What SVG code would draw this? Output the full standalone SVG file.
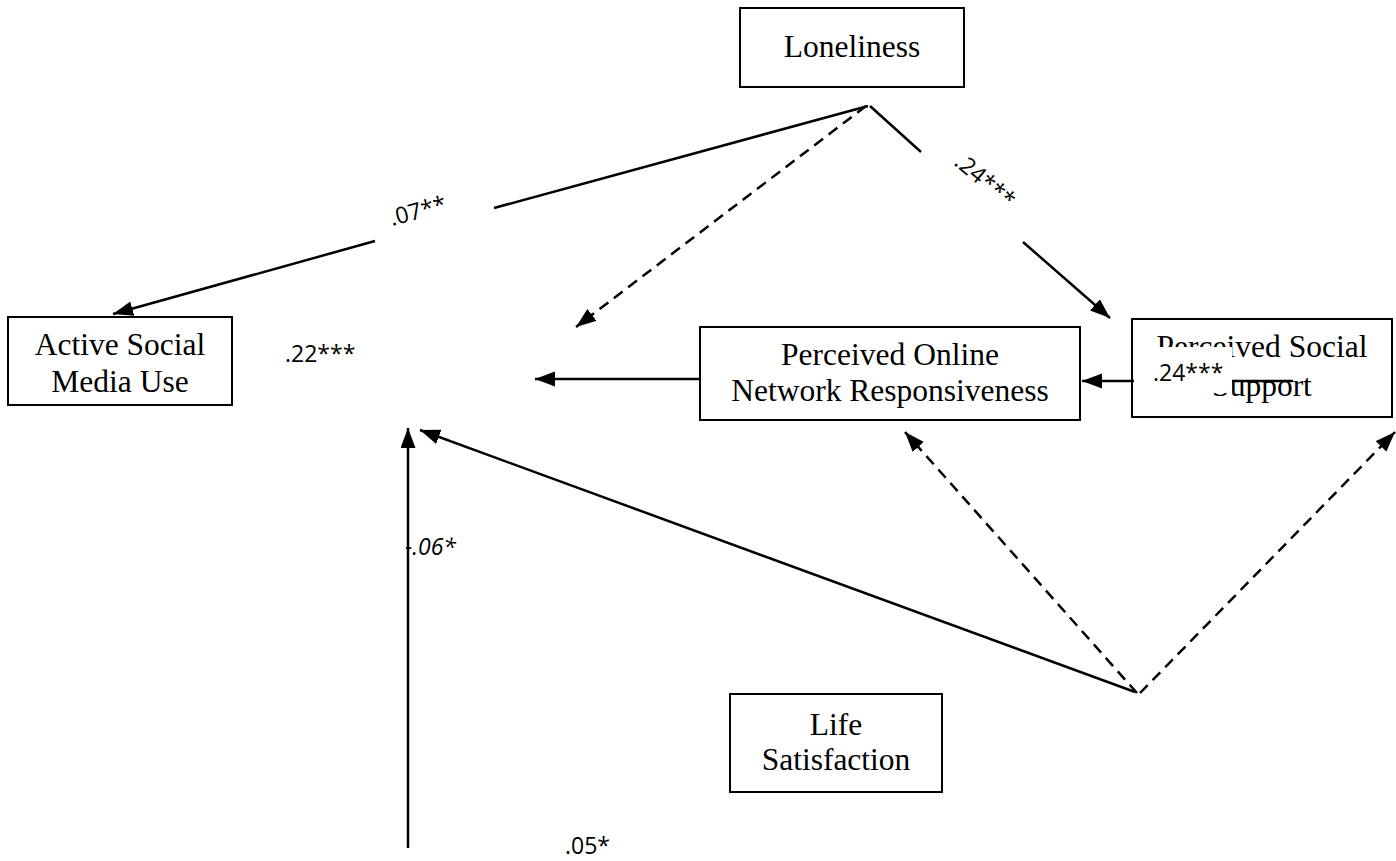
<svg xmlns="http://www.w3.org/2000/svg" width="1396" height="861" viewBox="0 0 1396 861">
<defs>
<marker id="ah" markerUnits="userSpaceOnUse" markerWidth="22" markerHeight="16" refX="20" refY="7.5" orient="auto">
<path d="M0,0 L20,7.5 L0,15 Z" fill="#000"/>
</marker>
</defs>
<style>
.box{fill:#fff;stroke:#000;stroke-width:2}
.lbl{font-family:"Liberation Serif","Times New Roman",serif;font-size:31.5px;fill:#000;text-anchor:middle}
.num{font-family:"Open Sans","Liberation Sans",sans-serif;font-size:23px;fill:#000}
.ln{fill:none;stroke:#000;stroke-width:2.5}
.dl{fill:none;stroke:#000;stroke-width:2.5;stroke-dasharray:11 7}
</style>
<rect width="1396" height="861" fill="#fff"/>
<g id="connectors">
<line class="ln" x1="868" y1="106" x2="494" y2="208"/>
<line class="ln" x1="375" y1="241" x2="113" y2="314" marker-end="url(#ah)"/>
<line class="dl" x1="866" y1="106" x2="576" y2="327" marker-end="url(#ah)"/>
<line class="ln" x1="870" y1="106" x2="921" y2="152"/>
<line class="ln" x1="1023" y1="242" x2="1110" y2="318" marker-end="url(#ah)"/>
<line class="ln" x1="700" y1="379" x2="535" y2="379" marker-end="url(#ah)"/>
<line class="ln" x1="408" y1="848" x2="408" y2="428" marker-end="url(#ah)"/>
<line class="ln" x1="1135" y1="692" x2="420" y2="430" marker-end="url(#ah)"/>
<line class="dl" x1="1137" y1="693" x2="905" y2="432" marker-end="url(#ah)"/>
<line class="dl" x1="1140" y1="693" x2="1395" y2="432" marker-end="url(#ah)"/>
</g>
<g id="loneliness">
<rect class="box" x="740" y="8" width="224" height="79"/>
<text class="lbl" x="852" y="57">Loneliness</text>
</g>
<g id="active-social-media-use">
<rect class="box" x="8" y="317" width="224" height="88"/>
<text class="lbl" x="120" y="355">Active Social</text>
<text class="lbl" x="120" y="392">Media Use</text>
</g>
<g id="perceived-online-network-responsiveness">
<rect class="box" x="700" y="327" width="380" height="93"/>
<text class="lbl" x="890" y="365">Perceived Online</text>
<text class="lbl" x="890" y="401">Network Responsiveness</text>
</g>
<g id="perceived-social-support">
<rect class="box" x="1132" y="319" width="260" height="98"/>
<text class="lbl" x="1262" y="357">Perceived Social</text>
<text class="lbl" x="1262" y="396">Support</text>
<line class="ln" x1="1293" y1="381" x2="1082" y2="381" marker-end="url(#ah)"/>
<rect x="1134" y="347" width="98" height="46" fill="#fff"/>
<text class="num" x="1153" y="381">.24***</text>
</g>
<g id="life-satisfaction">
<rect class="box" x="730" y="694" width="212" height="98"/>
<text class="lbl" x="836" y="735">Life</text>
<text class="lbl" x="836" y="770">Satisfaction</text>
</g>
<g id="labels">
<text class="num" x="392" y="226" transform="rotate(-15 392 226)">.07**</text>
<text class="num" x="953" y="164" transform="rotate(40 953 164)">.24***</text>
<text class="num" x="285" y="362">.22***</text>
<text class="num" x="405" y="555" font-style="italic">-.06*</text>
<text class="num" x="565" y="854">.05*</text>
</g>
</svg>
